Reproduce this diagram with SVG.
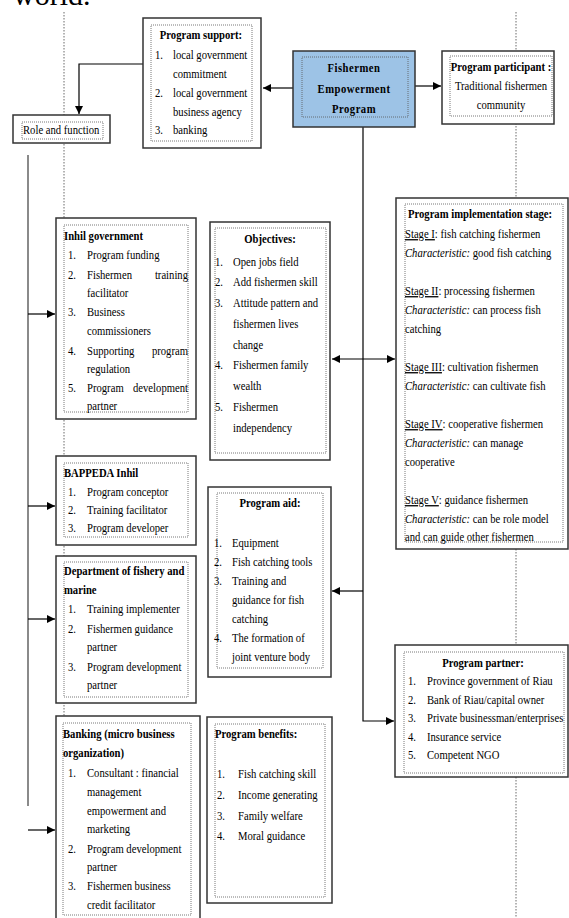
<svg xmlns="http://www.w3.org/2000/svg" width="569" height="918" viewBox="0 0 569 918">
<style>
.t{font-family:"Liberation Serif","Times New Roman",serif;font-size:13px;fill:#000}
.b{font-weight:bold}
.m{text-anchor:middle}
.e{text-anchor:end}
.i{font-style:italic}
.box{fill:#fff;stroke:#333;stroke-width:1.5}
.in{fill:none;stroke:#555;stroke-width:.8;stroke-dasharray:1 1}
.guide{stroke:#444;stroke-width:.8;stroke-dasharray:1.5 1.5;fill:none}
.con{stroke:#000;stroke-width:1.2;fill:none}
.gray{stroke:#8a8a8a;stroke-width:2;fill:none}
</style>
<defs>
<marker id="ah" viewBox="0 0 8 8" refX="8" refY="4" markerWidth="8" markerHeight="8" markerUnits="userSpaceOnUse" orient="auto-start-reverse">
<path d="M0,0 L8,4 L0,8 z" fill="#000"/>
</marker>
</defs>
<rect width="569" height="918" fill="#fff"/>
<text x="13" y="4.5" style="font-family:'Liberation Serif',serif;font-size:30px">world.</text>
<g id="guides">
<line class="guide" x1="64" y1="12" x2="64" y2="918"/>
<line class="guide" x1="516" y1="12" x2="516" y2="918"/>
</g>
<g id="connectors">
<path class="con" d="M143,64 H79 V114" marker-end="url(#ah)"/>
<path class="con" d="M293,88 H263" marker-end="url(#ah)"/>
<path class="con" d="M415,86 H441" marker-end="url(#ah)"/>
<path class="con" d="M363,127 V721 H394" marker-end="url(#ah)"/>
<path class="con" d="M332,359 H395" marker-start="url(#ah)" marker-end="url(#ah)"/>
<path class="con" d="M363,591 H332" marker-end="url(#ah)"/>
<path class="gray" d="M28,155 V806"/>
<path class="con" d="M28,314 H55" marker-end="url(#ah)"/>
<path class="con" d="M28,506 H55" marker-end="url(#ah)"/>
<path class="con" d="M28,619 H55" marker-end="url(#ah)"/>
<path class="con" d="M28,830 H55" marker-end="url(#ah)"/>
</g>
<g id="program-support">
<rect class="box" x="143" y="18" width="118" height="130"/>
<rect class="in" x="151" y="25" width="101" height="116"/>
<text class="t b m" transform="translate(201,39) scale(.82,1)">Program support:</text>
<text class="t" transform="translate(155,59) scale(.82,1)">1.</text>
<text class="t" transform="translate(173,59) scale(.82,1)">local government</text>
<text class="t" transform="translate(173,78) scale(.82,1)">commitment</text>
<text class="t" transform="translate(155,97) scale(.82,1)">2.</text>
<text class="t" transform="translate(173,97) scale(.82,1)">local government</text>
<text class="t" transform="translate(173,116) scale(.82,1)">business agency</text>
<text class="t" transform="translate(155,134) scale(.82,1)">3.</text>
<text class="t" transform="translate(173,134) scale(.82,1)">banking</text>
</g>
<g id="role-function">
<rect class="box" x="13" y="115" width="97" height="28"/>
<rect class="in" x="22" y="122" width="81" height="17"/>
<text class="t" transform="translate(23,134) scale(.82,1)">Role and function</text>
</g>
<g id="fishermen-empowerment">
<rect x="293" y="51" width="122" height="76" fill="#9dc3e6" stroke="#333" stroke-width="1.5"/>
<rect class="in" x="302" y="57" width="106" height="60"/>
<text class="t b m" transform="translate(354,72) scale(.82,1)" letter-spacing=".6">Fishermen</text>
<text class="t b m" transform="translate(354,93) scale(.82,1)" letter-spacing=".6">Empowerment</text>
<text class="t b m" transform="translate(354,113) scale(.82,1)" letter-spacing=".6">Program</text>
</g>
<g id="program-participant">
<rect class="box" x="442" y="51" width="112" height="73"/>
<rect class="in" x="450" y="56" width="102" height="60"/>
<text class="t b m" transform="translate(501,71) scale(.82,1)">Program participant :</text>
<text class="t m" transform="translate(501,90) scale(.82,1)">Traditional fishermen</text>
<text class="t m" transform="translate(501,109) scale(.82,1)">community</text>
</g>
<g id="inhil-government">
<rect class="box" x="56" y="218" width="140" height="201"/>
<rect class="in" x="64" y="225" width="124" height="187"/>
<text class="t b" transform="translate(64,240) scale(.82,1)">Inhil government</text>
<text class="t" transform="translate(68,259) scale(.82,1)">1.</text>
<text class="t" transform="translate(87,259) scale(.82,1)">Program funding</text>
<text class="t" transform="translate(68,279) scale(.82,1)">2.</text>
<text class="t" transform="translate(87,279) scale(.82,1)">Fishermen</text>
<text class="t e" transform="translate(188,279) scale(.82,1)">training</text>
<text class="t" transform="translate(87,297) scale(.82,1)">facilitator</text>
<text class="t" transform="translate(68,316) scale(.82,1)">3.</text>
<text class="t" transform="translate(87,316) scale(.82,1)">Business</text>
<text class="t" transform="translate(87,335) scale(.82,1)">commissioners</text>
<text class="t" transform="translate(68,355) scale(.82,1)">4.</text>
<text class="t" transform="translate(87,355) scale(.82,1)">Supporting</text>
<text class="t e" transform="translate(188,355) scale(.82,1)">program</text>
<text class="t" transform="translate(87,373) scale(.82,1)">regulation</text>
<text class="t" transform="translate(68,392) scale(.82,1)">5.</text>
<text class="t" transform="translate(87,392) scale(.82,1)">Program</text>
<text class="t e" transform="translate(188,392) scale(.82,1)">development</text>
<text class="t" transform="translate(87,410) scale(.82,1)">partner</text>
</g>
<g id="objectives">
<rect class="box" x="210" y="222" width="120" height="238"/>
<rect class="in" x="215" y="228" width="111" height="225"/>
<text class="t b m" transform="translate(270,243) scale(.82,1)">Objectives:</text>
<text class="t" transform="translate(215,266) scale(.82,1)">1.</text>
<text class="t" transform="translate(233,266) scale(.82,1)">Open jobs field</text>
<text class="t" transform="translate(215,286) scale(.82,1)">2.</text>
<text class="t" transform="translate(233,286) scale(.82,1)">Add fishermen skill</text>
<text class="t" transform="translate(215,307) scale(.82,1)">3.</text>
<text class="t" transform="translate(233,307) scale(.82,1)">Attitude pattern and</text>
<text class="t" transform="translate(233,328) scale(.82,1)">fishermen lives</text>
<text class="t" transform="translate(233,349) scale(.82,1)">change</text>
<text class="t" transform="translate(215,369) scale(.82,1)">4.</text>
<text class="t" transform="translate(233,369) scale(.82,1)">Fishermen family</text>
<text class="t" transform="translate(233,390) scale(.82,1)">wealth</text>
<text class="t" transform="translate(215,411) scale(.82,1)">5.</text>
<text class="t" transform="translate(233,411) scale(.82,1)">Fishermen</text>
<text class="t" transform="translate(233,432) scale(.82,1)">independency</text>
</g>
<g id="implementation-stage">
<rect class="box" x="396" y="198" width="172" height="351"/>
<rect class="in" x="405" y="204" width="158" height="338"/>
<text class="t b m" transform="translate(480,218) scale(.82,1)">Program implementation stage:</text>
<text class="t" transform="translate(405,238) scale(.82,1)"><tspan text-decoration="underline">Stage I</tspan>: fish catching fishermen</text>
<text class="t" transform="translate(405,257) scale(.82,1)"><tspan class="i">Characteristic:</tspan>  good fish catching</text>
<text class="t" transform="translate(405,295) scale(.82,1)"><tspan text-decoration="underline">Stage II</tspan>: processing fishermen</text>
<text class="t" transform="translate(405,314) scale(.82,1)"><tspan class="i">Characteristic:</tspan>  can process fish</text>
<text class="t" transform="translate(405,333) scale(.82,1)">catching</text>
<text class="t" transform="translate(405,371) scale(.82,1)"><tspan text-decoration="underline">Stage III</tspan>: cultivation fishermen</text>
<text class="t" transform="translate(405,390) scale(.82,1)"><tspan class="i">Characteristic:</tspan>  can cultivate fish</text>
<text class="t" transform="translate(405,428) scale(.82,1)"><tspan text-decoration="underline">Stage IV</tspan>: cooperative fishermen</text>
<text class="t" transform="translate(405,447) scale(.82,1)"><tspan class="i">Characteristic:</tspan>  can manage</text>
<text class="t" transform="translate(405,466) scale(.82,1)">cooperative</text>
<text class="t" transform="translate(405,504) scale(.82,1)"><tspan text-decoration="underline">Stage V</tspan>: guidance fishermen</text>
<text class="t" transform="translate(405,523) scale(.82,1)"><tspan class="i">Characteristic:</tspan>  can be role model</text>
<text class="t" transform="translate(405,541) scale(.82,1)">and can guide other fishermen</text>
</g>
<g id="bappeda">
<rect class="box" x="56" y="456" width="140" height="89"/>
<rect class="in" x="64" y="463" width="124" height="74"/>
<text class="t b" transform="translate(64,477) scale(.82,1)">BAPPEDA Inhil</text>
<text class="t" transform="translate(68,496) scale(.82,1)">1.</text>
<text class="t" transform="translate(87,496) scale(.82,1)">Program conceptor</text>
<text class="t" transform="translate(68,514) scale(.82,1)">2.</text>
<text class="t" transform="translate(87,514) scale(.82,1)">Training facilitator</text>
<text class="t" transform="translate(68,532) scale(.82,1)">3.</text>
<text class="t" transform="translate(87,532) scale(.82,1)">Program developer</text>
</g>
<g id="program-aid">
<rect class="box" x="208" y="487" width="123" height="190"/>
<rect class="in" x="217" y="493" width="106" height="175"/>
<text class="t b m" transform="translate(270,507) scale(.82,1)">Program aid:</text>
<text class="t" transform="translate(214,547) scale(.82,1)">1.</text>
<text class="t" transform="translate(232,547) scale(.82,1)">Equipment</text>
<text class="t" transform="translate(214,566) scale(.82,1)">2.</text>
<text class="t" transform="translate(232,566) scale(.82,1)">Fish catching tools</text>
<text class="t" transform="translate(214,585) scale(.82,1)">3.</text>
<text class="t" transform="translate(232,585) scale(.82,1)">Training and</text>
<text class="t" transform="translate(232,604) scale(.82,1)">guidance for fish</text>
<text class="t" transform="translate(232,623) scale(.82,1)">catching</text>
<text class="t" transform="translate(214,642) scale(.82,1)">4.</text>
<text class="t" transform="translate(232,642) scale(.82,1)">The formation of</text>
<text class="t" transform="translate(232,661) scale(.82,1)">joint venture body</text>
</g>
<g id="fishery-marine">
<rect class="box" x="56" y="556" width="140" height="147"/>
<rect class="in" x="64" y="562" width="124" height="135"/>
<text class="t b" transform="translate(64,575) scale(.82,1)">Department of fishery and</text>
<text class="t b" transform="translate(64,594) scale(.82,1)">marine</text>
<text class="t" transform="translate(68,613) scale(.82,1)">1.</text>
<text class="t" transform="translate(87,613) scale(.82,1)">Training implementer</text>
<text class="t" transform="translate(68,633) scale(.82,1)">2.</text>
<text class="t" transform="translate(87,633) scale(.82,1)">Fishermen guidance</text>
<text class="t" transform="translate(87,651) scale(.82,1)">partner</text>
<text class="t" transform="translate(68,671) scale(.82,1)">3.</text>
<text class="t" transform="translate(87,671) scale(.82,1)">Program development</text>
<text class="t" transform="translate(87,689) scale(.82,1)">partner</text>
</g>
<g id="program-partner">
<rect class="box" x="395" y="645" width="173" height="132"/>
<rect class="in" x="404" y="652" width="160" height="121"/>
<text class="t b m" transform="translate(483,667) scale(.82,1)">Program partner:</text>
<text class="t" transform="translate(408,685) scale(.82,1)">1.</text>
<text class="t" transform="translate(427,685) scale(.82,1)">Province government of Riau</text>
<text class="t" transform="translate(408,704) scale(.82,1)">2.</text>
<text class="t" transform="translate(427,704) scale(.82,1)">Bank of Riau/capital owner</text>
<text class="t" transform="translate(408,722) scale(.82,1)">3.</text>
<text class="t" transform="translate(427,722) scale(.82,1)">Private businessman/enterprises</text>
<text class="t" transform="translate(408,741) scale(.82,1)">4.</text>
<text class="t" transform="translate(427,741) scale(.82,1)">Insurance service</text>
<text class="t" transform="translate(408,759) scale(.82,1)">5.</text>
<text class="t" transform="translate(427,759) scale(.82,1)">Competent NGO</text>
</g>
<g id="banking">
<rect class="box" x="56" y="716" width="144" height="210"/>
<rect class="in" x="63" y="723" width="128" height="192"/>
<text class="t b" transform="translate(63,738) scale(.82,1)">Banking (micro business</text>
<text class="t b" transform="translate(63,757) scale(.82,1)">organization)</text>
<text class="t" transform="translate(68,777) scale(.82,1)">1.</text>
<text class="t" transform="translate(87,777) scale(.82,1)">Consultant : financial</text>
<text class="t" transform="translate(87,796) scale(.82,1)">management</text>
<text class="t" transform="translate(87,815) scale(.82,1)">empowerment and</text>
<text class="t" transform="translate(87,833) scale(.82,1)">marketing</text>
<text class="t" transform="translate(68,853) scale(.82,1)">2.</text>
<text class="t" transform="translate(87,853) scale(.82,1)">Program development</text>
<text class="t" transform="translate(87,871) scale(.82,1)">partner</text>
<text class="t" transform="translate(68,890) scale(.82,1)">3.</text>
<text class="t" transform="translate(87,890) scale(.82,1)">Fishermen business</text>
<text class="t" transform="translate(87,909) scale(.82,1)">credit facilitator</text>
</g>
<g id="program-benefits">
<rect class="box" x="207" y="717" width="125" height="186"/>
<rect class="in" x="215" y="724" width="110" height="173"/>
<text class="t b" transform="translate(215,738) scale(.82,1)">Program benefits:</text>
<text class="t" transform="translate(217,778) scale(.82,1)">1.</text>
<text class="t" transform="translate(238,778) scale(.82,1)">Fish catching skill</text>
<text class="t" transform="translate(217,799) scale(.82,1)">2.</text>
<text class="t" transform="translate(238,799) scale(.82,1)">Income generating</text>
<text class="t" transform="translate(217,820) scale(.82,1)">3.</text>
<text class="t" transform="translate(238,820) scale(.82,1)">Family welfare</text>
<text class="t" transform="translate(217,840) scale(.82,1)">4.</text>
<text class="t" transform="translate(238,840) scale(.82,1)">Moral guidance</text>
</g>
</svg>
